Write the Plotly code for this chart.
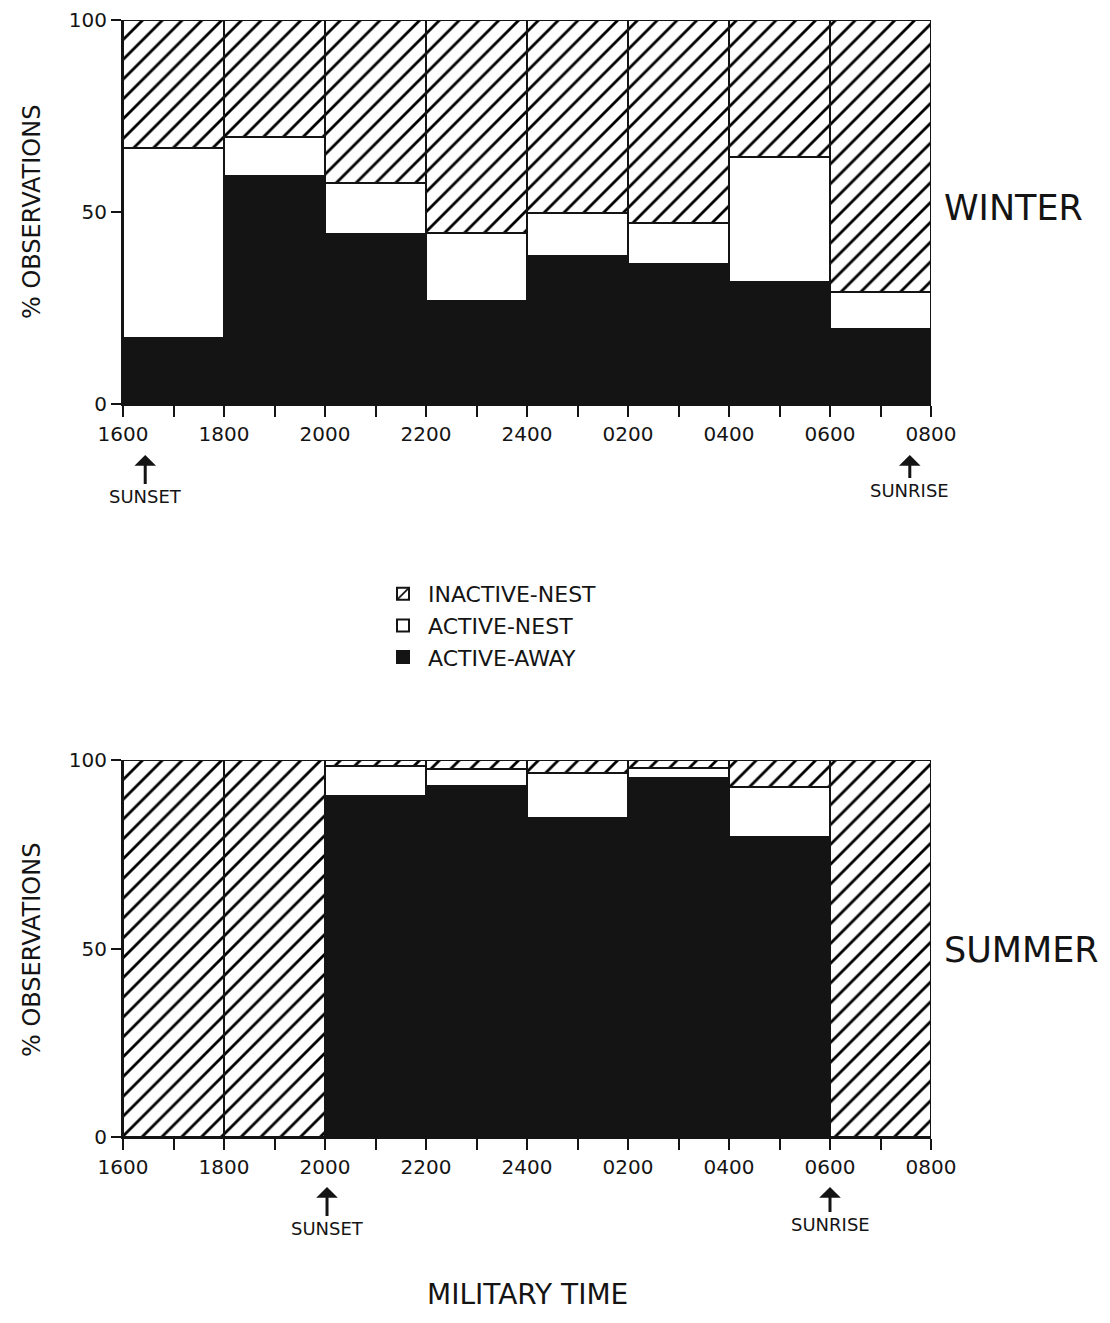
import plotly.graph_objects as go

# ---- data ----
bin_centers = [0.5, 1.5, 2.5, 3.5, 4.5, 5.5, 6.5, 7.5]
tick_positions = [0, 1, 2, 3, 4, 5, 6, 7, 8]
tick_labels = ["1600", "1800", "2000", "2200", "2400", "0200", "0400", "0600", "0800"]
minor_positions = [0.5, 1.5, 2.5, 3.5, 4.5, 5.5, 6.5, 7.5]

winter_active_away = [17.2, 59.4, 44.3, 26.8, 38.5, 36.5, 31.8, 19.5]
winter_active_nest = [49.5, 10.1, 13.2, 17.7, 11.2, 10.6, 32.5, 9.7]
winter_inactive_nest = [33.3, 30.5, 42.5, 55.5, 50.3, 52.9, 35.7, 70.8]

summer_active_away = [0, 0, 90.5, 93.1, 84.6, 95.2, 79.6, 0]
summer_active_nest = [0, 0, 7.9, 4.5, 12.0, 2.7, 13.2, 0]
summer_inactive_nest = [100, 100, 1.6, 2.4, 3.4, 2.1, 7.2, 100]

sunset_winter = 0.22
sunrise_winter = 7.79
sunset_summer = 2.02
sunrise_summer = 7.0

FONT = "DejaVu Sans"
INK = "#141414"

# page has an 8px body margin; figure is sized to fit inside the window
OFF = 8
W, H = 1110 - 2 * OFF, 1323 - 2 * OFF

def px(xp):
    return (xp - OFF) / W

def py(yp):
    return 1 - (yp - OFF) / H

fig = go.Figure()

def add_panel(away, nest, inactive, xa, ya, legend):
    fig.add_trace(go.Bar(x=bin_centers, y=away, width=1, name="ACTIVE-AWAY",
                         marker=dict(color=INK, line=dict(color=INK, width=2)),
                         xaxis=xa, yaxis=ya, showlegend=legend))
    fig.add_trace(go.Bar(x=bin_centers, y=nest, width=1, name="ACTIVE-NEST",
                         marker=dict(color="white", line=dict(color=INK, width=2)),
                         xaxis=xa, yaxis=ya, showlegend=legend))
    fig.add_trace(go.Bar(x=bin_centers, y=inactive, width=1, name="INACTIVE-NEST",
                         marker=dict(color="white", line=dict(color=INK, width=2),
                                     pattern=dict(shape="/", fgcolor="black", bgcolor="white",
                                                  fgopacity=1, size=14, solidity=0.2)),
                         xaxis=xa, yaxis=ya, showlegend=legend))

add_panel(winter_active_away, winter_active_nest, winter_inactive_nest, "x", "y", True)
add_panel(summer_active_away, summer_active_nest, summer_inactive_nest, "x2", "y2", False)

xdom = [px(123), px(931)]
top_dom = [py(404), py(20)]
bot_dom = [py(1137), py(760)]

xaxis_common = dict(range=[0, 8], tickvals=tick_positions, ticktext=tick_labels,
                    ticks="outside", ticklen=11, tickwidth=2, tickcolor=INK,
                    showline=True, linecolor=INK, linewidth=2, showgrid=False, zeroline=False,
                    ticklabelstandoff=0, automargin=False,
                    minor=dict(tickvals=minor_positions, ticks="outside", ticklen=11,
                               tickwidth=2, tickcolor=INK),
                    tickfont=dict(family=FONT, size=20, color=INK), domain=xdom)
yaxis_common = dict(range=[0, 100], tickvals=[0, 50, 100], ticks="outside", ticklen=10,
                    tickwidth=2, tickcolor=INK, showline=True, linecolor=INK, linewidth=2,
                    showgrid=False, zeroline=False, automargin=False,
                    tickfont=dict(family=FONT, size=20, color=INK))

fig.update_layout(
    width=W, height=H, barmode="stack", bargap=0,
    paper_bgcolor="white", plot_bgcolor="white",
    margin=dict(l=0, r=0, t=0, b=0, autoexpand=False),
    xaxis=dict(**xaxis_common, anchor="y"),
    xaxis2=dict(**xaxis_common, anchor="y2"),
    yaxis=dict(**yaxis_common, domain=top_dom, anchor="x"),
    yaxis2=dict(**yaxis_common, domain=bot_dom, anchor="x2"),
    legend=dict(x=px(378), y=py(573), xanchor="left", yanchor="top",
                traceorder="reversed", font=dict(family=FONT, size=22, color=INK),
                bgcolor="rgba(0,0,0,0)", itemwidth=40, tracegroupgap=0),
    showlegend=True,
)

ann = []
# side labels
ann.append(dict(text="WINTER", x=px(942), y=py(208), xref="paper", yref="paper",
                xanchor="left", yanchor="middle", showarrow=False,
                font=dict(family=FONT, size=35, color=INK)))
ann.append(dict(text="SUMMER", x=px(942), y=py(950), xref="paper", yref="paper",
                xanchor="left", yanchor="middle", showarrow=False,
                font=dict(family=FONT, size=35, color=INK)))
# y titles
for yc in [212, 950]:
    ann.append(dict(text="% OBSERVATIONS", x=px(32), y=py(yc), xref="paper", yref="paper",
                    xanchor="center", yanchor="middle", showarrow=False, textangle=-90,
                    font=dict(family=FONT, size=24, color=INK)))
# x title
ann.append(dict(text="MILITARY TIME", x=px(527), y=py(1294), xref="paper", yref="paper",
                xanchor="center", yanchor="middle", showarrow=False,
                font=dict(family=FONT, size=28, color=INK)))

# sunset / sunrise markers
def marker(text, xval, xref, head_px, text_px):
    ann.append(dict(text=text, x=xval, xref=xref, y=py(head_px), yref="paper",
                    ax=0, ay=text_px - head_px, axref="pixel", ayref="pixel",
                    showarrow=True, arrowhead=1, arrowsize=1.2, arrowwidth=3,
                    arrowcolor=INK, standoff=0,
                    font=dict(family=FONT, size=18, color=INK)))

marker("SUNSET", sunset_winter, "x", 455, 496)
marker("SUNRISE", sunrise_winter, "x", 455, 490)
marker("SUNSET", sunset_summer, "x2", 1187, 1228)
marker("SUNRISE", sunrise_summer, "x2", 1187, 1224)

fig.update_layout(annotations=ann)
fig.write_html("out.html")
